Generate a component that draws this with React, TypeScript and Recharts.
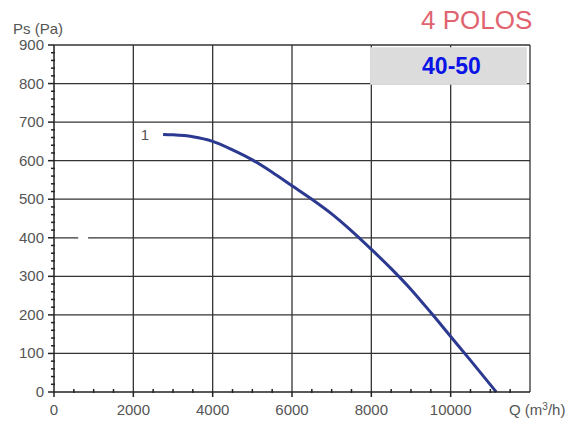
import { CartesianGrid, Line, LineChart, ReferenceArea, ReferenceLine, XAxis, YAxis } from "recharts";

const flow = [2750, 3000, 3500, 4000, 4500, 5000, 5500, 6000, 6500, 7000, 7500, 8000, 8500, 9000, 9500, 10000, 10500, 11150];
const pressure = [668, 667, 662, 650, 628, 602, 570, 535, 500, 462, 418, 370, 320, 266, 206, 144, 82, 0];

const xMajor = [0, 2000, 4000, 6000, 8000, 10000, 12000];
const yMajor = [0, 100, 200, 300, 400, 500, 600, 700, 800, 900];
const xTicks = Array.from({ length: 25 }, (_, i) => i * 500);
const yTicks = Array.from({ length: 46 }, (_, i) => i * 20);

const curveLabel = "1";
const modelLabel = "40-50";

const data = flow.map((q, i) => ({ q, ps: pressure[i] }));

const FONT = "'Liberation Sans', Arial, sans-serif";
const TEXT = "#555";
const AXIS = "#222";

function XTick({ x, y, payload }: any) {
  const v = payload.value as number;
  if (v === 12000) {
    return (
      <text x={x - 21} y={y + 23} fontSize={15} fill={TEXT} fontFamily={FONT}>
        Q (m<tspan dy={-5} fontSize={10}>3</tspan>
        <tspan dy={5}>/h)</tspan>
      </text>
    );
  }
  if (v % 2000 === 0) {
    return (
      <g>
        <line x1={x} x2={x} y1={y} y2={y + 5} stroke={AXIS} strokeWidth={1.5} />
        <text x={x} y={y + 23} textAnchor="middle" fontSize={15} fill={TEXT} fontFamily={FONT}>
          {v}
        </text>
      </g>
    );
  }
  return <line x1={x} x2={x} y1={y - 3} y2={y + 1} stroke={AXIS} strokeWidth={1.5} />;
}

function YTick({ x, y, payload }: any) {
  const v = payload.value as number;
  if (v % 100 === 0) {
    return (
      <g>
        <line x1={x - 6} x2={x} y1={y} y2={y} stroke={AXIS} strokeWidth={1.5} />
        <text x={x - 10} y={y + 5} textAnchor="end" fontSize={15} fill={TEXT} fontFamily={FONT}>
          {v}
        </text>
      </g>
    );
  }
  return <line x1={x - 3} x2={x + 1} y1={y} y2={y} stroke={AXIS} strokeWidth={1.5} />;
}

function CurveLabel({ x, y, index }: any) {
  if (index !== 0) return null;
  return (
    <text x={x - 14} y={y + 6} textAnchor="end" fontSize={15} fill={TEXT} stroke="none" fontFamily={FONT}>
      {curveLabel}
    </text>
  );
}

export default function App() {
  return (
    <div style={{ position: "absolute", left: 0, top: 0, width: 581, height: 425, background: "#fff" }}>
      <div
        style={{
          position: "absolute",
          left: 13,
          top: 21,
          fontFamily: FONT,
          fontSize: 15,
          lineHeight: "15px",
          color: TEXT,
        }}
      >
        Ps (Pa)
      </div>
      <div
        style={{
          position: "absolute",
          left: 421,
          top: 7,
          fontFamily: FONT,
          fontSize: 26,
          lineHeight: "26px",
          color: "#e0636f",
        }}
      >
        4 POLOS
      </div>
      <LineChart width={581} height={425} data={data} margin={{ top: 45, right: 51, bottom: 0, left: 0 }}>
        <CartesianGrid
          horizontalValues={yMajor.slice(1)}
          verticalValues={xMajor.slice(1)}
          stroke="#333"
          strokeWidth={1.3}
        />
        <XAxis
          type="number"
          dataKey="q"
          domain={[0, 12000]}
          ticks={xTicks}
          interval={0}
          height={33}
          tickSize={0}
          tickMargin={0}
          tickLine={false}
          axisLine={{ stroke: AXIS, strokeWidth: 1.5 }}
          tick={<XTick />}
        />
        <YAxis
          type="number"
          domain={[0, 900]}
          ticks={yTicks}
          interval={0}
          width={54}
          tickSize={0}
          tickMargin={0}
          tickLine={false}
          axisLine={{ stroke: AXIS, strokeWidth: 1.5 }}
          tick={<YTick />}
        />
        <ReferenceLine
          segment={[
            { x: 610, y: 400 },
            { x: 860, y: 400 },
          ]}
          stroke="#fff"
          strokeWidth={4}
        />
        <ReferenceArea
          x1={7970}
          x2={11920}
          y1={797}
          y2={894}
          fill="#dcdcdc"
          fillOpacity={1}
          stroke="none"
          label={{
            value: modelLabel,
            position: "center",
            dx: 3,
            fill: "#0a14e6",
            fontSize: 23,
            fontWeight: 700,
            fontFamily: FONT,
          }}
        />
        <Line
          type="monotone"
          dataKey="ps"
          stroke="#2b3990"
          strokeWidth={3}
          dot={false}
          isAnimationActive={false}
          label={<CurveLabel />}
        />
      </LineChart>
    </div>
  );
}
